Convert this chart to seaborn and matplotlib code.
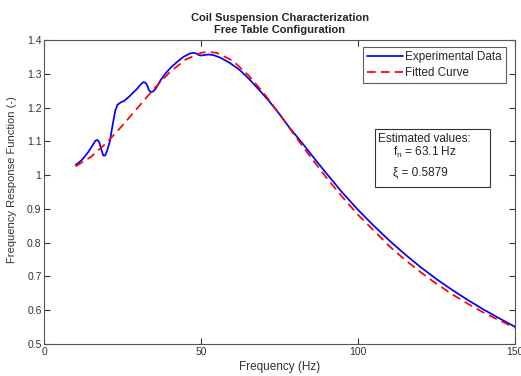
import matplotlib
matplotlib.use("Agg")
import matplotlib.pyplot as plt
import matplotlib.patches as mpatches
import seaborn as sns
import pandas as pd

exp_freq = [10, 12, 14, 15.5, 16.3, 16.9, 17.5, 18.2, 18.8, 19.4, 20.0, 20.9, 21.8,
            22.6, 23.3, 24.3, 25.5, 27, 28.5, 29.5, 30.5, 31.5, 32.2, 32.8, 33.3,
            33.9, 34.6, 35.5, 37, 38.8, 40.5, 42.2, 44.3, 46.4, 47.5, 48.5, 49.3,
            50.2, 51.2, 52.5, 54, 56, 59, 62.3, 65, 68.7, 72, 75, 78, 82, 86, 90,
            95, 100, 105, 110, 115, 120, 125, 130, 135, 140, 145, 150]
exp_frf = [1.030, 1.045, 1.068, 1.090, 1.102, 1.104, 1.098, 1.075, 1.058, 1.058,
           1.072, 1.100, 1.150, 1.190, 1.208, 1.215, 1.220, 1.232, 1.246, 1.255,
           1.266, 1.275, 1.274, 1.266, 1.252, 1.246, 1.247, 1.256, 1.280, 1.303,
           1.320, 1.334, 1.350, 1.360, 1.362, 1.360, 1.355, 1.354, 1.356, 1.357,
           1.355, 1.348, 1.333, 1.311, 1.287, 1.250, 1.215, 1.180, 1.142, 1.097,
           1.050, 1.004, 0.948, 0.897, 0.850, 0.806, 0.765, 0.727, 0.692, 0.660,
           0.630, 0.602, 0.576, 0.551]

# Fitted curve
fit_freq = [10, 15, 20, 25, 30, 35, 40, 45, 50, 52, 55, 60, 65, 70, 75, 80, 85,
            90, 95, 100, 105, 110, 115, 120, 125, 130, 135, 140, 145, 150]
fit_frf = [1.026, 1.055, 1.097, 1.148, 1.202, 1.256, 1.305, 1.342, 1.362, 1.365,
           1.362, 1.339, 1.296, 1.242, 1.180, 1.115, 1.052, 0.991, 0.935, 0.882,
           0.836, 0.789, 0.749, 0.712, 0.678, 0.647, 0.619, 0.593, 0.570, 0.548]

title_text = "Coil Suspension Characterization\nFree Table Configuration"
x_label = "Frequency (Hz)"
y_label = "Frequency Response Function (-)"
legend_labels = ["Experimental Data", "Fitted Curve"]
x_ticks = [0, 50, 100, 150]
y_ticks = [0.5, 0.6, 0.7, 0.8, 0.9, 1.0, 1.1, 1.2, 1.3, 1.4]
y_tick_labels = ["0.5", "0.6", "0.7", "0.8", "0.9", "1", "1.1", "1.2", "1.3", "1.4"]

sns.set_style("ticks")
plt.rcParams['font.family'] = ['Liberation Sans', 'DejaVu Sans']
plt.rcParams['mathtext.fontset'] = 'custom'
plt.rcParams['mathtext.rm'] = 'Liberation Sans'
plt.rcParams['mathtext.it'] = 'Liberation Sans'

W, H = 521, 376
fig = plt.figure(figsize=(W / 100, H / 100), dpi=100)
ax = fig.add_axes([44.3 / W, 1 - 344 / H, (515 - 44.3) / W, (344 - 40) / H])

df_exp = pd.DataFrame({"f": exp_freq, "v": exp_frf})
df_fit = pd.DataFrame({"f": fit_freq, "v": fit_frf})
sns.lineplot(data=df_exp, x="f", y="v", ax=ax, color="#0000ff", lw=1.25,
             label=legend_labels[0], sort=False)
sns.lineplot(data=df_fit, x="f", y="v", ax=ax, color="#ff0000", lw=1.25,
             linestyle=(0, (5, 3)), label=legend_labels[1], sort=False)

ax.set_xlim(0, 150)
ax.set_ylim(0.5, 1.4)
ax.set_xticks(x_ticks)
ax.set_xticklabels([str(t) for t in x_ticks])
ax.set_yticks(y_ticks)
ax.set_yticklabels(y_tick_labels)
ax.tick_params(direction="in", top=True, right=True, length=4, width=0.8,
               labelsize=7.5, colors="#333333", labelcolor="#333333", pad=2)
for s in ax.spines.values():
    s.set_color("#555555")
    s.set_linewidth(0.8)
ax.set_xlabel(x_label, fontsize=8.5, color="#333333", labelpad=3)
ax.set_ylabel(y_label, fontsize=8, color="#333333")
ax.yaxis.set_label_coords(-0.058, 0.54)
ax.set_title(title_text, fontsize=8, fontweight="bold", pad=5, linespacing=1.2)

leg = ax.legend(loc="upper right", bbox_to_anchor=(506 / W, 1 - 47.3 / H),
                bbox_transform=fig.transFigure, fontsize=8.5, frameon=True,
                fancybox=False, handlelength=3.0, handletextpad=0.2,
                borderpad=0.35, labelspacing=0.3, borderaxespad=0)
leg.get_frame().set_edgecolor("#333333")
leg.get_frame().set_linewidth(0.8)

# Estimated values box
x0, y0, x1, y1 = 375, 129, 490, 187
rect = mpatches.Rectangle((x0 / W, 1 - y1 / H), (x1 - x0) / W, (y1 - y0) / H,
                          transform=fig.transFigure, facecolor="white",
                          edgecolor="#333333", lw=0.8, zorder=5)
fig.patches.append(rect)
fig.text(378 / W, 1 - 139 / H, "Estimated values:", fontsize=8.5, va="center",
         ha="left", color="#222222", zorder=6)
fig.text(393 / W, 1 - 152 / H, r"f$_\mathregular{n}$ = 63.1 Hz", fontsize=8.5,
         va="center", ha="left", color="#222222", zorder=6)
fig.text(393 / W, 1 - 172 / H, "ξ = 0.5879", fontsize=8.5, va="center",
         ha="left", color="#222222", zorder=6,
         family=['Liberation Sans', 'DejaVu Sans'])

fig.savefig("out.png", dpi=100)
